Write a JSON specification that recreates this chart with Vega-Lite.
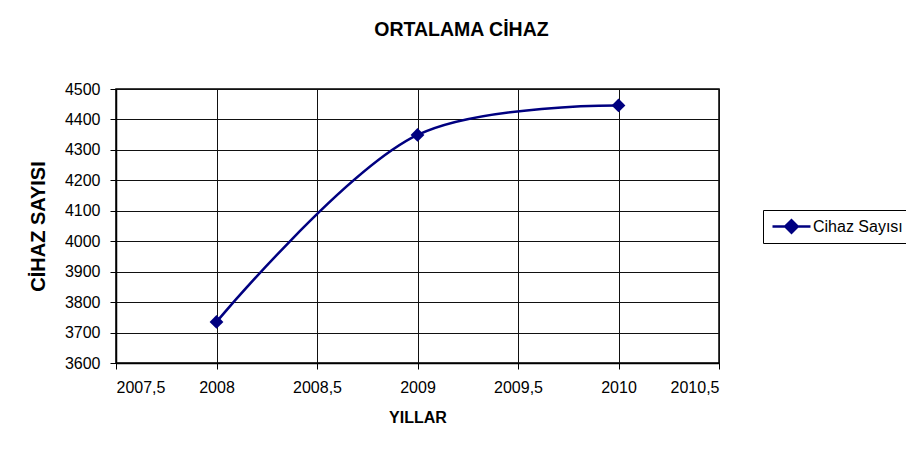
{
  "$schema": "https://vega.github.io/schema/vega-lite/v6.json",
  "width": 603,
  "height": 274,
  "autosize": {"type": "none"},
  "padding": {"left": 116, "top": 89, "right": 187, "bottom": 98},
  "background": "white",
  "title": {
    "text": "ORTALAMA CİHAZ",
    "font": "Liberation Sans",
    "fontSize": 19.5,
    "fontWeight": "bold",
    "color": "black",
    "anchor": "middle",
    "dx": 44,
    "offset": 41
  },
  "data": {
    "values": [
      {"yil": 2008, "cihaz": 3735},
      {"yil": 2009, "cihaz": 4349},
      {"yil": 2010, "cihaz": 4446}
    ]
  },
  "encoding": {
    "x": {
      "field": "yil",
      "type": "quantitative",
      "scale": {"domain": [2007.5, 2010.5], "nice": false, "zero": false},
      "axis": {
        "title": "YILLAR",
        "values": [2007.5, 2008, 2008.5, 2009, 2009.5, 2010, 2010.5],
        "labelExpr": "replace(format(datum.value, '~g'), '.', ',')",
        "titlePadding": 14,
        "labelPadding": 10
      }
    },
    "y": {
      "field": "cihaz",
      "type": "quantitative",
      "scale": {"domain": [3600, 4500], "nice": false, "zero": false},
      "axis": {
        "title": "CİHAZ SAYISI",
        "values": [3600, 3700, 3800, 3900, 4000, 4100, 4200, 4300, 4400, 4500],
        "format": "d",
        "titlePadding": 16,
        "labelPadding": 10,
        "titleFontSize": 20
      }
    },
    "color": {
      "datum": "Cihaz Sayısı",
      "type": "nominal",
      "scale": {"range": ["#000080"]},
      "legend": {
        "title": null,
        "orient": "none",
        "legendX": 647,
        "legendY": 121,
        "strokeColor": "black",
        "fillColor": "white",
        "padding": 5,
        "symbolType": "M-1.9,0H1.9M-0.62,0L0,-0.62L0.62,0L0,0.62Z",
        "symbolSize": 400,
        "symbolOffset": 12,
        "symbolStrokeWidth": 2.5,
        "symbolFillColor": "#000080",
        "symbolStrokeColor": "#000080",
        "symbolOpacity": 1,
        "labelFont": "Liberation Sans",
        "labelFontSize": 16,
        "labelColor": "black",
        "labelOffset": 10
      }
    }
  },
  "layer": [
    {
      "mark": {"type": "line", "interpolate": "catmull-rom", "strokeWidth": 2.5, "color": "#000080"}
    },
    {
      "mark": {"type": "point", "shape": "diamond", "filled": true, "size": 190, "opacity": 1, "color": "#000080"}
    }
  ],
  "config": {
    "view": {"stroke": "black", "strokeWidth": 1.5},
    "axis": {
      "labelFont": "Liberation Sans",
      "labelFontSize": 16,
      "labelColor": "black",
      "titleFont": "Liberation Sans",
      "titleFontWeight": "bold",
      "titleFontSize": 16,
      "titleColor": "black",
      "grid": true,
      "gridColor": "#111111",
      "gridWidth": 1,
      "gridOpacity": 1,
      "domainColor": "black",
      "domainWidth": 1.5,
      "tickColor": "black",
      "tickSize": 6,
      "tickWidth": 1
    }
  }
}
